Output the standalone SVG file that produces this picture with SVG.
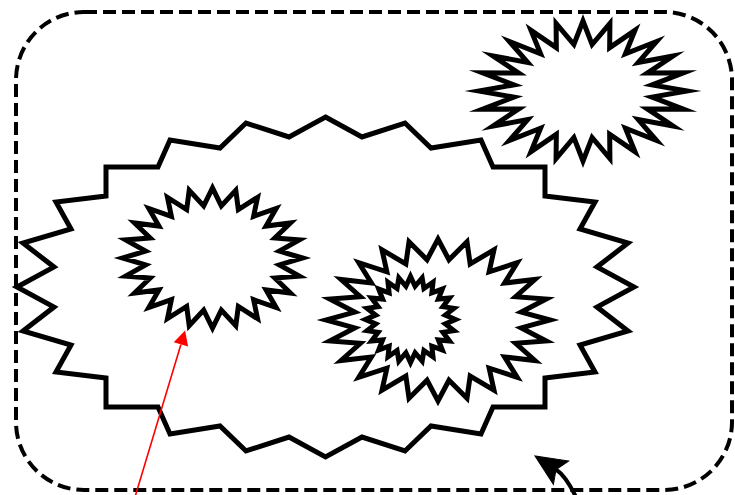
<svg xmlns="http://www.w3.org/2000/svg" width="735" height="495" viewBox="0 0 735 495">
<defs>
<style>
.frame{fill:none;stroke:#000;stroke-width:4;stroke-dasharray:13 6}
.shape{fill:#fff;stroke:#000;stroke-width:5;stroke-miterlimit:10;stroke-linejoin:miter}
.burst{fill:#fff;stroke:#000;stroke-width:5;stroke-miterlimit:10;stroke-linejoin:miter;vector-effect:non-scaling-stroke}
.red{fill:none;stroke:#ff0000;stroke-width:1.6}
.blk{fill:none;stroke:#000;stroke-width:4}
</style>
<marker id="redHead" markerUnits="userSpaceOnUse" viewBox="0 -8 15 16" refX="0" refY="0" markerWidth="15" markerHeight="16" orient="auto" overflow="visible">
<path d="M0,-7.5 L14.5,0 L0,7.5 z" fill="#ff0000"/>
</marker>
<marker id="blkHead" markerUnits="userSpaceOnUse" viewBox="-8 -15 34 30" refX="0" refY="0" markerWidth="34" markerHeight="30" orient="auto" overflow="visible">
<path d="M25,0 L-6,-14 L0,0 L-6,14 z" fill="#000" stroke="#000" stroke-width="1" stroke-linejoin="miter"/>
</marker>
</defs>
<g id="container">
<rect class="frame" x="16" y="12" width="716" height="478" rx="68" ry="68"/>
</g>
<g id="big-burst">
<polygon class="shape" points="325.5,117 362,137 405,123 431,148 481,140 493,167 545,167 545,196 595,202 580,229 628,243 597,267 634,287 597,307 628,331 580,345 595,372 545,378 545,407 493,407 481,434 431,426 405,451 362,437 325.5,457 289,437 246,451 220,426 170,434 158,407 106,407 106,378 56,372 71,345 23,331 54,307 17,287 54,267 23,243 71,229 56,202 106,196 106,167 158,167 170,140 220,148 246,123 289,137"/>
</g>
<g id="burst-top-right">
<polygon class="burst" transform="translate(583 91) scale(1.04 0.70)" points="100,0 66.43,-8.75 96.59,-25.88 61.90,-25.64 86.60,-50 53.15,-40.79 70.71,-70.71 40.79,-53.15 50,-86.60 25.64,-61.90 25.88,-96.59 8.75,-66.43 0,-100 -8.75,-66.43 -25.88,-96.59 -25.64,-61.90 -50,-86.60 -40.79,-53.15 -70.71,-70.71 -53.15,-40.79 -86.60,-50 -61.90,-25.64 -96.59,-25.88 -66.43,-8.75 -100,0 -66.43,8.75 -96.59,25.88 -61.90,25.64 -86.60,50 -53.15,40.79 -70.71,70.71 -40.79,53.15 -50,86.60 -25.64,61.90 -25.88,96.59 -8.75,66.43 0,100 8.75,66.43 25.88,96.59 25.64,61.90 50,86.60 40.79,53.15 70.71,70.71 53.15,40.79 86.60,50 61.90,25.64 96.59,25.88 66.43,8.75"/>
</g>
<g id="burst-left">
<polygon class="burst" transform="translate(212.5 258) scale(0.90 0.70)" points="100,0 74.36,-9.79 96.59,-25.88 69.29,-28.70 86.60,-50 59.50,-45.66 70.71,-70.71 45.66,-59.50 50,-86.60 28.70,-69.29 25.88,-96.59 9.79,-74.36 0,-100 -9.79,-74.36 -25.88,-96.59 -28.70,-69.29 -50,-86.60 -45.66,-59.50 -70.71,-70.71 -59.50,-45.66 -86.60,-50 -69.29,-28.70 -96.59,-25.88 -74.36,-9.79 -100,0 -74.36,9.79 -96.59,25.88 -69.29,28.70 -86.60,50 -59.50,45.66 -70.71,70.71 -45.66,59.50 -50,86.60 -28.70,69.29 -25.88,96.59 -9.79,74.36 0,100 9.79,74.36 25.88,96.59 28.70,69.29 50,86.60 45.66,59.50 70.71,70.71 59.50,45.66 86.60,50 69.29,28.70 96.59,25.88 74.36,9.79"/>
</g>
<g id="burst-middle">
<polygon class="burst" transform="translate(438 320) scale(1.12 0.81)" points="100,0 74.36,-9.79 96.59,-25.88 69.29,-28.70 86.60,-50 59.50,-45.66 70.71,-70.71 45.66,-59.50 50,-86.60 28.70,-69.29 25.88,-96.59 9.79,-74.36 0,-100 -9.79,-74.36 -25.88,-96.59 -28.70,-69.29 -50,-86.60 -45.66,-59.50 -70.71,-70.71 -59.50,-45.66 -86.60,-50 -69.29,-28.70 -96.59,-25.88 -74.36,-9.79 -100,0 -74.36,9.79 -96.59,25.88 -69.29,28.70 -86.60,50 -59.50,45.66 -70.71,70.71 -45.66,59.50 -50,86.60 -28.70,69.29 -25.88,96.59 -9.79,74.36 0,100 9.79,74.36 25.88,96.59 28.70,69.29 50,86.60 45.66,59.50 70.71,70.71 59.50,45.66 86.60,50 69.29,28.70 96.59,25.88 74.36,9.79"/>
</g>
<g id="burst-small">
<polygon class="burst" transform="translate(410.5 319.5) scale(0.45 0.43)" points="100,0 77.33,-10.18 96.59,-25.88 72.06,-29.85 86.60,-50 61.88,-47.48 70.71,-70.71 47.48,-61.88 50,-86.60 29.85,-72.06 25.88,-96.59 10.18,-77.33 0,-100 -10.18,-77.33 -25.88,-96.59 -29.85,-72.06 -50,-86.60 -47.48,-61.88 -70.71,-70.71 -61.88,-47.48 -86.60,-50 -72.06,-29.85 -96.59,-25.88 -77.33,-10.18 -100,0 -77.33,10.18 -96.59,25.88 -72.06,29.85 -86.60,50 -61.88,47.48 -70.71,70.71 -47.48,61.88 -50,86.60 -29.85,72.06 -25.88,96.59 -10.18,77.33 0,100 10.18,77.33 25.88,96.59 29.85,72.06 50,86.60 47.48,61.88 70.71,70.71 61.88,47.48 86.60,50 72.06,29.85 96.59,25.88 77.33,10.18"/>
</g>
<g id="connectors">
<path class="red" d="M135,497 L180.9,344.4" marker-end="url(#redHead)"/>
<path class="blk" d="M576,497 Q565.7,475.8 556,469.5" marker-end="url(#blkHead)"/>
</g>
</svg>
